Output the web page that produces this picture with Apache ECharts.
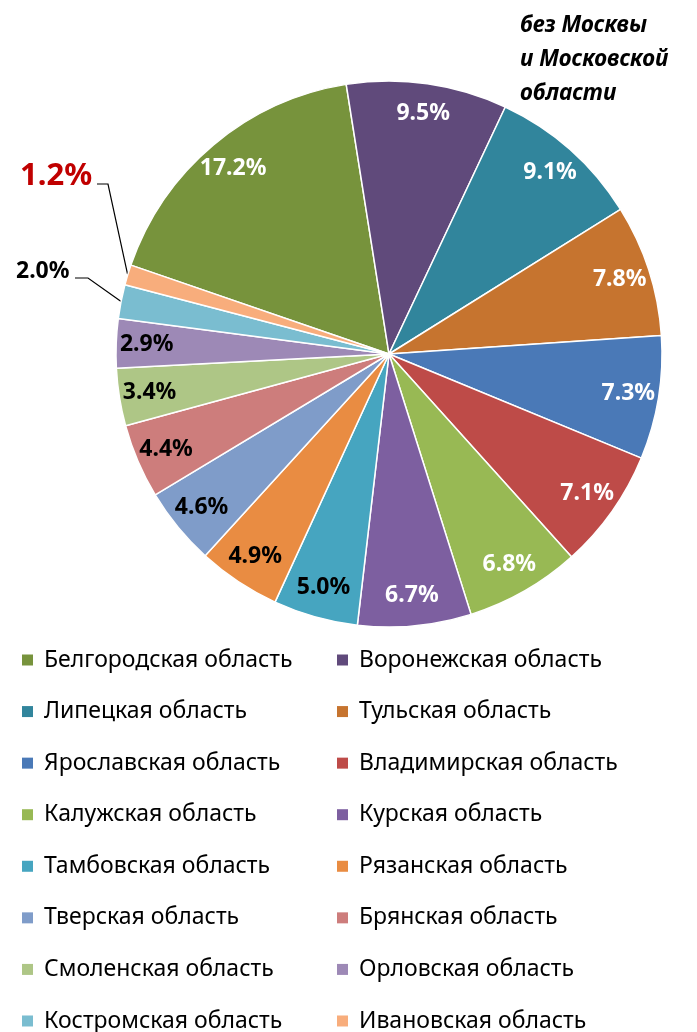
<!DOCTYPE html>
<html>
<head>
<meta charset="utf-8">
<script src="https://cdn.jsdelivr.net/npm/echarts@6/dist/echarts.min.js"></script>
<style>
  html, body { margin: 0; padding: 0; background: #fff; }
  #chart { width: 697px; height: 1032px; }
</style>
</head>
<body>
<div id="chart"></div>
<script>
// ─── data ───
const REGIONS = [
  'Белгородская область', 'Воронежская область',
  'Липецкая область', 'Тульская область',
  'Ярославская область', 'Владимирская область',
  'Калужская область', 'Курская область',
  'Тамбовская область', 'Рязанская область',
  'Тверская область', 'Брянская область',
  'Смоленская область', 'Орловская область',
  'Костромская область', 'Ивановская область',
];
const SHARES = [17.2, 9.5, 9.1, 7.8, 7.3, 7.1, 6.8, 6.7, 5.0, 4.9, 4.6, 4.4, 3.4, 2.9, 2.0, 1.2];
const TITLE = 'без Москвы\nи Московской\nобласти';

// ─── styles ───
const COLORS = [
  '#77933C', '#604A7B', '#31859C', '#C6742F',
  '#4A79B7', '#BE4B48', '#98B954', '#7D5FA0',
  '#46A5C0', '#E98C42', '#7F9CC9', '#CD7D7C',
  '#AEC686', '#9D89B6', '#7ABDD0', '#F8AD7C',
];
const DARK_LABEL = new Set([8, 9, 10, 11, 12, 13]); // black text on light slices
const OUTSIDE = new Set([14, 15]);                  // labels with leader lines
const FONT = "'Noto Sans', 'DejaVu Sans', sans-serif";

const CENTER = [389, 354];
const R = 273;
const START = 161;

const mainData = SHARES.map((v, i) => ({
  name: REGIONS[i],
  value: v,
  itemStyle: { color: COLORS[i] },
  label: OUTSIDE.has(i)
    ? {
        show: true,
        position: 'outside',
        overflow: 'none',
        formatter: v.toFixed(1) + '%',
        fontFamily: FONT,
        fontWeight: 'bold',
        fontSize: i === 15 ? 31 : 23,
        color: i === 15 ? '#C00000' : '#000',
      }
    : { show: false },
  labelLine: { show: OUTSIDE.has(i) },
}));

// transparent ring only used to place the inside labels further out
const ringData = SHARES.map((v, i) => ({
  name: REGIONS[i],
  value: v,
  label: {
    show: !OUTSIDE.has(i),
    formatter: v.toFixed(1) + '%',
    color: DARK_LABEL.has(i) ? '#000' : '#fff',
  },
}));

const legendBase = {
  orient: 'vertical',
  top: 648.5,
  height: 440,
  padding: 0,
  itemWidth: 11,
  itemHeight: 11,
  itemGap: 28.57,
  icon: 'rect',
  selectedMode: false,
  itemStyle: { borderWidth: 0 },
  textStyle: { fontFamily: FONT, fontSize: 23, color: '#000', lineHeight: 23, padding: [0, 0, 0, 6] },
};

const chart = echarts.init(document.getElementById('chart'), null, { renderer: 'canvas' });
chart.setOption({
  animation: false,
  backgroundColor: '#ffffff',
  title: {
    text: TITLE,
    left: 515,
    top: 4,
    textStyle: { fontFamily: FONT, fontSize: 22.5, fontWeight: 'bold', fontStyle: 'italic', color: '#000', lineHeight: 34 },
  },
  legend: [
    { ...legendBase, left: 22, data: REGIONS.filter((_, i) => i % 2 === 0) },
    { ...legendBase, left: 337, data: REGIONS.filter((_, i) => i % 2 === 1) },
  ],
  series: [
    {
      type: 'pie',
      center: CENTER,
      radius: [0, R],
      startAngle: START,
      clockwise: true,
      silent: true,
      data: mainData,
      itemStyle: { borderColor: '#ffffff', borderWidth: 1.5 },
      labelLine: { lineStyle: { color: '#000', width: 1.2 } },
      labelLayout: (p) => {
        const edge = p.labelLinePoints && p.labelLinePoints[0];
        if (!edge) return {};
        if (p.dataIndex === 15) {
          return { x: 20, y: 176, align: 'left', verticalAlign: 'middle',
                   labelLinePoints: [edge, [108, 184], [97, 184]] };
        }
        if (p.dataIndex === 14) {
          return { x: 16, y: 271, align: 'left', verticalAlign: 'middle',
                   labelLinePoints: [edge, [88, 278], [75, 278]] };
        }
        return {};
      },
    },
    {
      type: 'pie',
      center: CENTER,
      radius: [206, R],
      startAngle: START,
      clockwise: true,
      silent: true,
      data: ringData,
      itemStyle: { color: 'rgba(0,0,0,0)', borderWidth: 0 },
      label: { position: 'inside', fontFamily: FONT, fontWeight: 'bold', fontSize: 23 },
      labelLine: { show: false },
    },
  ],
});
</script>
</body>
</html>
